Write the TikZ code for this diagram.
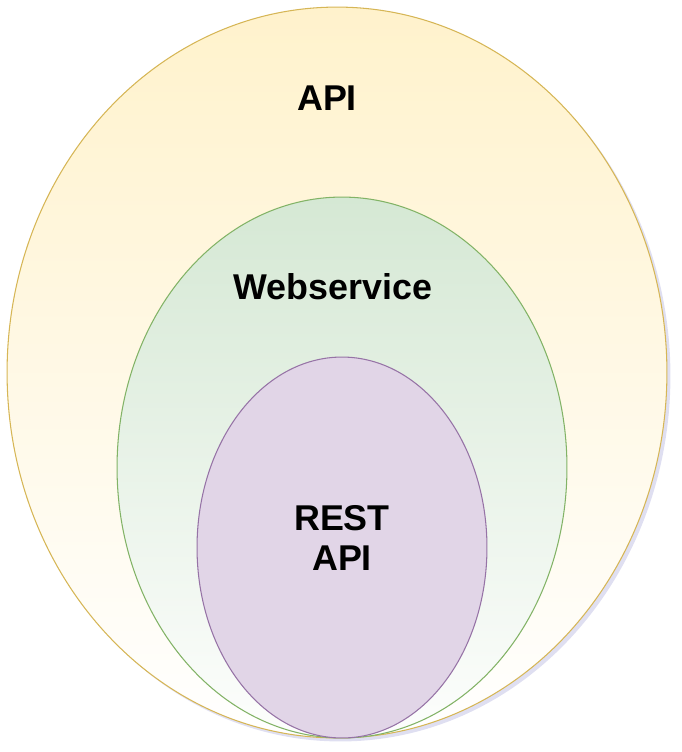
\documentclass[tikz,border=0pt]{standalone}
\usepackage{fontspec}
\setmainfont{Liberation Sans}
\usetikzlibrary{shapes.geometric, shadows}
\usepackage{xcolor}

\definecolor{apiFill}{HTML}{FFF2CC}
\definecolor{apiLine}{HTML}{D6B656}
\definecolor{wsFill}{HTML}{D5E8D4}
\definecolor{wsLine}{HTML}{82B366}
\definecolor{restFill}{HTML}{E1D5E7}
\definecolor{restLine}{HTML}{9673A6}

\begin{document}
\begin{tikzpicture}[
    x=0.02cm, y=-0.02cm,
    every node/.style={font=\bfseries\fontsize{20.4}{23.3}\selectfont},
    layer/.style={ellipse, draw, inner sep=0pt, outer sep=0pt, line width=0.6pt},
    apilayer/.style={layer, draw=apiLine, top color=apiFill, bottom color=white,
        drop shadow={opacity=0.18, fill=blue!40!gray, shadow xshift=2pt, shadow yshift=-2pt}},
    wslayer/.style={layer, draw=wsLine, top color=wsFill, bottom color=white!95!wsFill},
    restlayer/.style={layer, draw=restLine, fill=restFill},
    label/.style={text=black, align=center}
]
\useasboundingbox (0,0) rectangle (682,752);

% API
\node[apilayer, minimum width=13.2cm, minimum height=14.62cm] (api) at (337,372.5) {};

% Webservice
\node[wslayer, minimum width=9cm, minimum height=10.82cm] (ws) at (342,467.5) {};

% REST API
\node[restlayer, minimum width=5.8cm, minimum height=7.62cm] (rest) at (342,547.5) {};

% Labels
\node[label] (apitext) at (327,98) {API};
\node[label] (wstext) at (333,287) {Webservice};
\node[label] (resttext) at (342,538) {REST\\API};

\end{tikzpicture}
\end{document}
